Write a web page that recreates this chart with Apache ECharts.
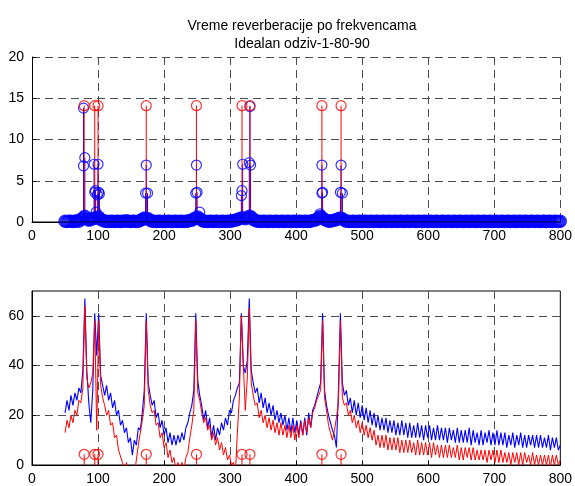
<!DOCTYPE html>
<html>
<head>
<meta charset="utf-8">
<title>Vreme reverberacije po frekvencama</title>
<script src="https://cdn.jsdelivr.net/npm/echarts@6/dist/echarts.min.js"></script>
<style>
  html, body { margin: 0; padding: 0; background: #fff; }
  #chart { width: 575px; height: 486px; }
</style>
</head>
<body>
<div id="chart"></div>
<script>
// modovi (Hz) i visine crvenih stemova
const modeFreqs = [79, 95, 100, 173, 249, 318, 330, 439, 468];
const modeTopValues = [14.1, 14.1, 14.1, 14.1, 14.1, 14.1, 14.1, 14.1, 14.1];
const modeBottomValues = [4.3, 4.3, 4.3, 4.3, 4.3, 4.3, 4.3, 4.3, 4.3];

// plavi kruzici oko modova (gornji grafik): [f, vrednost]
const topBluePeaks = [
  [78, 13.8], [78, 6.8], [80, 7.8],
  [94, 7.0], [95, 3.6], [96, 3.8], [97, 1.2], [99, 3.3], [100, 7.0], [101, 3.6], [102, 3.4],
  [172, 3.5], [173, 6.9], [175, 3.5],
  [248, 3.5], [249, 6.9], [250, 3.6], [254, 1.2],
  [317, 3.2], [318, 3.8], [319, 7.0], [329, 7.2], [330, 14.0], [331, 6.9],
  [436, 1.0], [439, 3.5], [439, 6.9], [440, 3.6],
  [467, 3.6], [468, 6.9], [470, 3.5]
];

// frekvencijska osa za uzorkovane krive: 50..800 Hz, korak 3 Hz
const freqStart = 50;
const freqStep = 3;

// gornji grafik, plavi kruzici blizu nule
const topBlueLow = [
  .1,.05,.1,.1,.05,.1,.15,.1,.3,.5,
  .7,.4,.2,.3,.4,.5,.5,.6,.3,.2,
  .1,.1,.05,.1,.1,.05,.1,.1,.05,.1,
  .1,.15,.1,.05,.1,.1,.05,.1,.2,.3,
  .5,.4,.4,.2,.1,.1,.05,.1,.1,.05,
  .1,.05,.1,.1,.05,.1,.1,.05,.1,.1,
  .05,.1,.1,.2,.2,.4,.5,.6,.4,.2,
  .1,.1,.05,.1,.1,.05,.1,.1,.05,.1,
  .1,.05,.1,.1,.1,.2,.2,.3,.4,.5,
  .5,.4,.5,.7,.6,.3,.2,.1,.1,.05,
  .1,.1,.05,.1,.1,.05,.1,.1,.05,.1,
  .1,.05,.1,.1,.05,.1,.1,.05,.1,.1,
  .05,.1,.1,.05,.1,.2,.2,.3,.5,.7,
  .5,.3,.2,.1,.1,.2,.2,.3,.4,.5,
  .4,.2,.1,.1,.05,.1,.1,.05,.1,.1,
  .05,.1,.1,.05,.1,.1,.05,.1,.1,.05,
  .1,.1,.05,.1,.1,.05,.1,.1,.05,.1,
  .1,.05,.1,.1,.05,.1,.1,.05,.1,.1,
  .05,.1,.1,.05,.1,.1,.05,.1,.1,.05,
  .1,.1,.05,.1,.1,.05,.1,.1,.05,.1,
  .1,.05,.1,.1,.05,.1,.1,.05,.1,.1,
  .05,.1,.1,.05,.1,.1,.05,.1,.1,.05,
  .1,.1,.05,.1,.1,.05,.1,.1,.05,.1,
  .1,.05,.1,.1,.05,.1,.1,.05,.1,.1,
  .05,.1,.1,.05,.1,.1,.05,.1,.1,.05,
  .1
];

// donji grafik, plava kriva
const bottomBlue = [
  21, 26, 22, 28, 24, 29, 26, 31, 29, 38,
  67, 38, 25, 17, 30, 61, 44, 61, 36, 32,
  28, 32, 26, 29, 23, 26, 20, 22, 16, 18,
  13, 15, 9, 11, 4, 10, 8, 15, 14, 21,
  30, 61, 33, 28, 24, 26, 19, 21, 15, 18,
  12, 15, 9, 13, 8, 12, 8, 12, 9, 13,
  10, 15, 17, 21, 24, 30, 61, 34, 28, 24,
  18, 22, 15, 19, 11, 16, 10, 15, 12, 17,
  14, 19, 16, 22, 21, 26, 28, 31, 33, 61,
  40, 37, 42, 67, 38, 33, 29, 31, 25, 29,
  23, 27, 21, 25, 20, 24, 18, 22, 17, 21,
  16, 20, 14, 19, 13, 19, 13, 18, 12, 18,
  12, 19, 12, 21, 15, 22, 24, 27, 30, 33,
  61, 30, 24, 20, 17, 14, 12, 7, 30, 61,
  33, 28, 30, 24, 27, 21, 26, 20, 25, 19,
  24, 18, 23, 17, 22, 16, 21, 15, 20, 14,
  19, 14, 19, 13, 18, 13, 18, 12, 17, 12,
  18, 12, 17, 11, 17, 11, 16, 11, 17, 11,
  16, 10, 16, 11, 16, 10, 15, 10, 16, 10,
  15, 10, 15, 9, 15, 10, 14, 9, 15, 9,
  14, 9, 14, 9, 15, 8, 14, 9, 13, 8,
  14, 8, 13, 9, 14, 8, 13, 8, 14, 8,
  13, 8, 13, 7, 12, 8, 13, 7, 12, 8,
  13, 7, 12, 7, 12, 8, 12, 7, 12, 7,
  12, 7, 11, 7, 12, 6, 11, 7, 11, 6,
  8
];

// donji grafik, crvena kriva
const bottomRed = [
  13, 18, 15, 20, 17, 22, 20, 26, 25, 31,
  64, 35, 31, 33, 37, 58, 14, 58, 32, 27,
  24, 20, 22, 16, 17, 11, 12, 6, 6, 1,
  -3, 1, -5, -2, -7, -4, 2, 8, 13, 18,
  24, 58, 30, 24, 21, 22, 16, 17, 11, 13,
  7, 9, 3, 6, 1, 3, -2, 1, -3, 1,
  -2, 3, 5, 11, 16, 22, 58, 29, 26, 21,
  17, 19, 14, 16, 10, 13, 8, 11, 6, 9,
  4, 7, 2, 4, 0, 1, -3, 13, 27, 60,
  40, 22, 35, 63, 33, 28, 24, 25, 19, 22,
  17, 20, 15, 19, 14, 18, 13, 17, 12, 17,
  12, 16, 11, 16, 11, 16, 10, 16, 11, 17,
  12, 18, 13, 19, 15, 21, 23, 26, 28, 30,
  58, 27, 22, 16, 13, 10, 14, 19, 25, 58,
  27, 24, 25, 20, 22, 17, 20, 15, 18, 13,
  17, 12, 16, 11, 15, 10, 14, 8, 12, 7,
  12, 7, 12, 6, 11, 6, 11, 6, 11, 5,
  10, 5, 10, 5, 10, 5, 9, 4, 10, 4,
  9, 4, 9, 4, 9, 3, 9, 4, 8, 3,
  8, 3, 8, 3, 8, 3, 7, 3, 8, 2,
  7, 2, 7, 3, 7, 2, 7, 2, 6, 2,
  6, 2, 6, 1, 6, 2, 6, 1, 6, 1,
  6, 1, 5, 1, 5, 0, 5, 1, 5, 0,
  5, 0, 5, 1, 4, 0, 5, 0, 4, 0,
  4, 0, 4, 0, 4, -1, 4, 0, 4, 0,
  2
];

const baselineRange = [0, 800];

const FONT = "'Liberation Sans', Arial, sans-serif";

function withFreq(values) {
  return values.map((v, i) => [freqStart + i * freqStep, v]);
}
function pairs(xs, ys) {
  return xs.map((x, i) => [x, ys[i]]);
}

// stem: linija od 0 do vrednosti
function stemSeries(axisIndex, data, color) {
  return {
    type: 'custom',
    xAxisIndex: axisIndex,
    yAxisIndex: axisIndex,
    data: data,
    silent: true,
    encode: { x: 0, y: 1 },
    renderItem: function (params, api) {
      const top = api.coord([api.value(0), api.value(1)]);
      const base = api.coord([api.value(0), 0]);
      return {
        type: 'line',
        shape: { x1: base[0], y1: base[1], x2: top[0], y2: top[1] },
        style: { stroke: color, lineWidth: 1 }
      };
    }
  };
}

function circles(axisIndex, data, color, size, width) {
  return {
    type: 'scatter',
    xAxisIndex: axisIndex,
    yAxisIndex: axisIndex,
    data: data,
    silent: true,
    symbol: 'circle',
    symbolSize: size,
    itemStyle: { color: 'rgba(0,0,0,0)', borderColor: color, borderWidth: width || 1.2 }
  };
}

const gridLine = { show: true, lineStyle: { color: '#4d4d4d', width: 1, type: [8, 5] } };
const axisBase = {
  type: 'value',
  axisLine: { show: true, onZero: false, lineStyle: { color: '#000', width: 1 } },
  axisTick: { show: true, inside: true, length: 4, lineStyle: { color: '#000' } },
  axisLabel: { color: '#000', fontSize: 14, fontFamily: FONT }
};

const chart = echarts.init(document.getElementById('chart'));
chart.setOption({
  animation: false,
  backgroundColor: '#fff',
  title: {
    text: 'Vreme reverberacije po frekvencama\nIdealan odziv-1-80-90',
    left: 297,
    top: 12,
    textAlign: 'center',
    textStyle: { color: '#000', fontSize: 14, fontWeight: 'normal', fontFamily: FONT, lineHeight: 18 }
  },
  grid: [
    { left: 32, right: 13, top: 57, height: 165 },
    { left: 32, right: 13, top: 291, height: 175, show: true, borderColor: '#000', borderWidth: 1, backgroundColor: 'rgba(0,0,0,0)' }
  ],
  xAxis: [
    Object.assign({}, axisBase, {
      gridIndex: 0, min: 0, max: 800, interval: 100,
      axisLabel: Object.assign({}, axisBase.axisLabel, { margin: 7 }),
      splitLine: Object.assign({}, gridLine, { showMinLine: false, showMaxLine: true })
    }),
    Object.assign({}, axisBase, {
      gridIndex: 1, min: 0, max: 800, interval: 100,
      axisLabel: Object.assign({}, axisBase.axisLabel, { margin: 7 }),
      splitLine: Object.assign({}, gridLine, { showMinLine: false, showMaxLine: false })
    })
  ],
  yAxis: [
    Object.assign({}, axisBase, {
      gridIndex: 0, min: 0, max: 20, interval: 5,
      axisLabel: Object.assign({}, axisBase.axisLabel, { margin: 8 }),
      splitLine: Object.assign({}, gridLine, { showMinLine: false, showMaxLine: true })
    }),
    Object.assign({}, axisBase, {
      gridIndex: 1, min: 0, max: 70, interval: 20,
      axisLabel: Object.assign({}, axisBase.axisLabel, { margin: 8, showMaxLabel: false }),
      splitLine: Object.assign({}, gridLine, { showMinLine: false, showMaxLine: false })
    })
  ],
  series: [
    // gornji grafik
    stemSeries(0, topBluePeaks, '#0000ff'),
    circles(0, withFreq(topBlueLow), '#0000ff', 11, 2.4),
    circles(0, topBluePeaks, '#0000ff', 10),
    {
      type: 'line', xAxisIndex: 0, yAxisIndex: 0, silent: true, showSymbol: false,
      data: [[baselineRange[0], 0], [baselineRange[1], 0]],
      lineStyle: { color: '#000', width: 1 }, z: 4
    },
    stemSeries(0, pairs(modeFreqs, modeTopValues), '#ff0000'),
    circles(0, pairs(modeFreqs, modeTopValues), '#ff0000', 10),
    // donji grafik
    {
      type: 'line', xAxisIndex: 1, yAxisIndex: 1, silent: true, showSymbol: false,
      data: withFreq(bottomBlue),
      lineStyle: { color: '#0000ff', width: 1.1 }
    },
    {
      type: 'line', xAxisIndex: 1, yAxisIndex: 1, silent: true, showSymbol: false,
      data: withFreq(bottomRed),
      lineStyle: { color: '#ff0000', width: 1 }
    },
    stemSeries(1, pairs(modeFreqs, modeBottomValues), '#ff0000'),
    circles(1, pairs(modeFreqs, modeBottomValues), '#ff0000', 10)
  ]
});
</script>
</body>
</html>
